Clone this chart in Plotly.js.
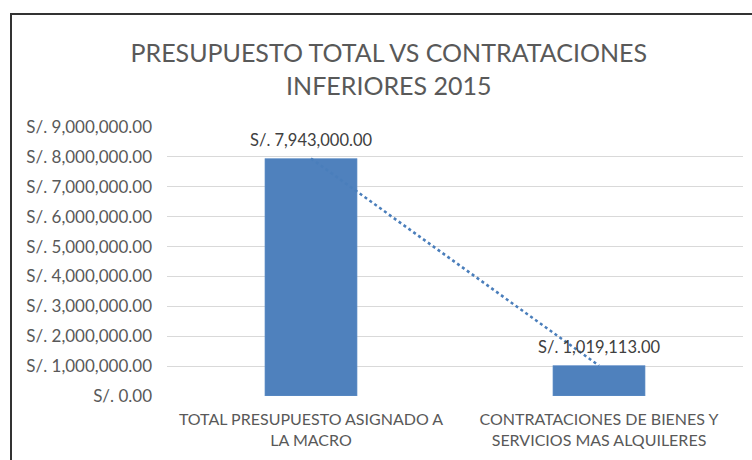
<!DOCTYPE html>
<html>
<head>
<meta charset="utf-8">
<script src="https://cdn.plot.ly/plotly-3.0.1.min.js"></script>
<style>html,body{margin:0;padding:0;background:#fff;}#chart{width:752px;height:460px;}</style>
</head>
<body>
<div id="chart"></div>
<script>
var categories = ["TOTAL PRESUPUESTO ASIGNADO A<br>LA MACRO", "CONTRATACIONES DE BIENES Y<br>SERVICIOS MAS ALQUILERES"];
var values = [7943000, 1019113];
var valueLabels = ["S/. 7,943,000.00", "S/. 1,019,113.00"];
var tickValues = [0, 1000000, 2000000, 3000000, 4000000, 5000000, 6000000, 7000000, 8000000, 9000000];
var tickLabels = ["S/. 0.00", "S/. 1,000,000.00", "S/. 2,000,000.00", "S/. 3,000,000.00", "S/. 4,000,000.00", "S/. 5,000,000.00", "S/. 6,000,000.00", "S/. 7,000,000.00", "S/. 8,000,000.00", "S/. 9,000,000.00"];
var titleText = "PRESUPUESTO TOTAL VS CONTRATACIONES<br>INFERIORES 2015";

var FONT = "Lato, sans-serif";
var barColor = "#4f81bd";

var bars = {
  type: "bar",
  x: categories,
  y: values,
  marker: {color: barColor, line: {color: "#6f99cf", width: 0.5}},
  hoverinfo: "none"
};
var trend = {
  type: "scatter",
  mode: "lines",
  x: categories,
  y: values,
  line: {color: "#4a7ebb", width: 2.5, dash: "dot"},
  hoverinfo: "none"
};

var labelAnnotations = categories.map(function (c, i) {
  return {x: c, y: values[i], xref: "x", yref: "y", text: valueLabels[i], showarrow: false,
          yanchor: "bottom", yshift: 7, font: {family: FONT, size: 16.5, color: "#404040"}};
});

var layout = {
  width: 752, height: 460,
  margin: {l: 167, r: 9, t: 127, b: 64},
  paper_bgcolor: "#fff", plot_bgcolor: "#fff",
  showlegend: false,
  bargap: 0.68,
  title: {text: titleText, x: 0.517, xref: "container", xanchor: "center", y: 0.865, yanchor: "top",
          font: {family: FONT, size: 25, color: "#595959"}},
  xaxis: {type: "category", showgrid: false, zeroline: false, showline: false, ticks: "",
          tickfont: {family: FONT, size: 16, color: "#595959"}, ticklabelstandoff: 12, automargin: false},
  yaxis: {range: [0, 9000000], tickvals: tickValues, ticktext: tickLabels, showgrid: true,
          gridcolor: "#d9d9d9", gridwidth: 1, zeroline: false, showline: false, ticks: "",
          tickfont: {family: FONT, size: 17, color: "#595959"}, ticklabelstandoff: 14, automargin: false},
  annotations: labelAnnotations,
  shapes: [
    {type: "line", xref: "paper", yref: "paper", x0: (11 - 167) / 576, x1: (11 - 167) / 576,
     y0: (396 - 470) / 269, y1: (396 - 13) / 269, line: {color: "#333333", width: 2}},
    {type: "line", xref: "paper", yref: "paper", x0: (10 - 167) / 576, x1: (760 - 167) / 576,
     y0: (396 - 14) / 269, y1: (396 - 14) / 269, line: {color: "#333333", width: 2}}
  ]
};

Plotly.newPlot("chart", [bars, trend], layout, {displayModeBar: false, staticPlot: true});
</script>
</body>
</html>
